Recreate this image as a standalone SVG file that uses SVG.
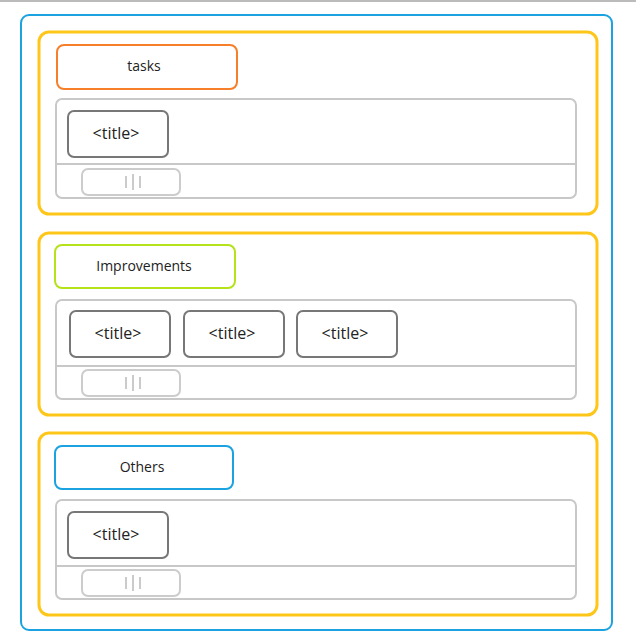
<svg xmlns="http://www.w3.org/2000/svg" width="636" height="643" viewBox="0 0 636 643">
<style>
.sec{fill:none;stroke:#ffc61a;stroke-width:3}
.hd{fill:#fff;stroke-width:2}
.pn{fill:#fff;stroke:#c8c8c8;stroke-width:2}
.cd{fill:#fff;stroke:#777;stroke-width:2}
.hl{fill:#fff;stroke:#ccc;stroke-width:2}
.gr{stroke:#bbb;stroke-width:1.5}
text{font-family:"Open Sans","DejaVu Sans",sans-serif;font-size:14px;fill:#222;text-anchor:middle}
.t{font-size:16px}
</style>
<rect width="636" height="643" fill="#fff"/>
<line x1="0" y1="1" x2="636" y2="1" stroke="#bbb" stroke-width="2"/>
<rect x="21" y="15" width="591" height="615" rx="8" fill="none" stroke="#1aa3e0" stroke-width="2"/>
<g id="tasks">
<rect class="sec" x="39" y="32" width="558" height="182" rx="10"/>
<rect class="hd" x="57" y="45" width="180" height="44" rx="7" stroke="#f77f2a"/>
<text x="144" y="71">tasks</text>
<rect class="pn" x="56" y="99" width="520" height="99" rx="6"/>
<line x1="56" y1="164" x2="576" y2="164" stroke="#c8c8c8" stroke-width="2"/>
<rect class="cd" x="68" y="111" width="100" height="46" rx="6"/><text class="t" x="116" y="139">&lt;title&gt;</text>
<rect class="hl" x="82" y="169" width="98" height="26" rx="6"/>
<path class="gr" d="M126 176v12M133 174v16M140 176v12"/>
</g>
<g id="improvements">
<rect class="sec" x="39" y="233" width="558" height="182" rx="10"/>
<rect class="hd" x="55" y="245" width="180" height="43" rx="7" stroke="#b6e21a"/>
<text x="144" y="271">Improvements</text>
<rect class="pn" x="56" y="300" width="520" height="99" rx="6"/>
<line x1="56" y1="366" x2="576" y2="366" stroke="#c8c8c8" stroke-width="2"/>
<rect class="cd" x="70" y="311" width="100" height="46" rx="6"/><text class="t" x="118" y="339">&lt;title&gt;</text>
<rect class="cd" x="184" y="311" width="100" height="46" rx="6"/><text class="t" x="232" y="339">&lt;title&gt;</text>
<rect class="cd" x="297" y="311" width="100" height="46" rx="6"/><text class="t" x="345" y="339">&lt;title&gt;</text>
<rect class="hl" x="82" y="370" width="98" height="26" rx="6"/>
<path class="gr" d="M126 377v12M133 375v16M140 377v12"/>
</g>
<g id="others">
<rect class="sec" x="39" y="433" width="558" height="182" rx="10"/>
<rect class="hd" x="55" y="446" width="178" height="43" rx="7" stroke="#1aa3e0"/>
<text x="142" y="472">Others</text>
<rect class="pn" x="56" y="500" width="520" height="99" rx="6"/>
<line x1="56" y1="566" x2="576" y2="566" stroke="#c8c8c8" stroke-width="2"/>
<rect class="cd" x="68" y="512" width="100" height="46" rx="6"/><text class="t" x="116" y="540">&lt;title&gt;</text>
<rect class="hl" x="82" y="570" width="98" height="26" rx="6"/>
<path class="gr" d="M126 577v12M133 575v16M140 577v12"/>
</g>
<g id="connectors"/>
</svg>
